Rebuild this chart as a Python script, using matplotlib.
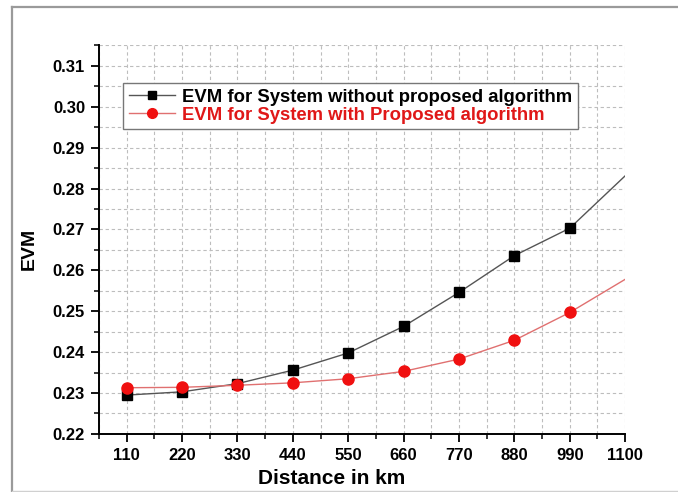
import matplotlib
matplotlib.use("Agg")
import matplotlib.pyplot as plt
from matplotlib.lines import Line2D
from matplotlib.ticker import MultipleLocator

# distancia (km) y EVM de cada sistema
distancia = [110, 220, 330, 440, 550, 660, 770, 880, 990, 1100]
evm_sin = [0.2295, 0.2303, 0.2323, 0.2356, 0.2398, 0.2463, 0.2546, 0.2636, 0.2703, 0.2831]
evm_con = [0.2313, 0.2314, 0.2319, 0.2325, 0.2335, 0.2353, 0.2383, 0.2429, 0.2497, 0.2578]

etiquetas = ['EVM for System without proposed algorithm',
             'EVM for System with Proposed algorithm']

plt.rcParams['font.family'] = ['Liberation Sans', 'DejaVu Sans']
plt.rcParams['font.weight'] = 'bold'

fig = plt.figure(figsize=(6.78, 4.92), dpi=100)
ax = fig.add_axes([0.146, 0.118, 0.776, 0.7905])

# marco gris exterior
fig.add_artist(Line2D([0.0177, 0.0177], [0.9858, 0.0], transform=fig.transFigure, color='#9a9a9a', lw=1.6))
fig.add_artist(Line2D([0.0177, 1.0], [0.9858, 0.9858], transform=fig.transFigure, color='#9a9a9a', lw=1.6))
fig.add_artist(Line2D([0.0177, 1.0], [0.002, 0.002], transform=fig.transFigure, color='#d0d0d0', lw=1.0))

# curvas (el último punto sin marcador)
ax.plot(distancia, evm_sin, color='#555555', lw=1.0, zorder=3)
ax.plot(distancia[:-1], evm_sin[:-1], 's', color='black', ms=7, zorder=4)
ax.plot(distancia, evm_con, color='#e07070', lw=1.0, zorder=3)
ax.plot(distancia[:-1], evm_con[:-1], 'o', color='#f01010', ms=8, zorder=4)

ax.set_xlim(55, 1100)
ax.set_ylim(0.22, 0.3151)
ax.set_xticks(distancia)
ax.xaxis.set_minor_locator(MultipleLocator(55))
ax.yaxis.set_major_locator(MultipleLocator(0.01))
ax.yaxis.set_minor_locator(MultipleLocator(0.005))
ax.yaxis.set_major_formatter(plt.FormatStrFormatter('%.2f'))

ax.grid(which='both', color='#bdbdbd', lw=0.8, linestyle=(0, (3, 2.5)))
ax.set_axisbelow(True)

for lado in ['top', 'right']:
    ax.spines[lado].set_visible(False)
for lado in ['left', 'bottom']:
    ax.spines[lado].set_linewidth(1.4)

ax.tick_params(which='major', direction='out', length=6, width=1.3, labelsize=12, pad=4)
ax.tick_params(which='minor', direction='out', length=3.5, width=1.1)
for t in ax.get_xticklabels() + ax.get_yticklabels():
    t.set_fontweight('bold')

ax.set_xlabel('Distance in km', fontsize=15, fontweight='bold')
ax.xaxis.set_label_coords(0.443, -0.09)
ax.set_ylabel('EVM', fontsize=14, fontweight='bold')
ax.yaxis.set_label_coords(-0.117, 0.476)

manejadores = [
    Line2D([], [], color='#555555', lw=1.0, marker='s', ms=6, mfc='black', mec='black'),
    Line2D([], [], color='#e07070', lw=1.0, marker='o', ms=7, mfc='#f01010', mec='#f01010'),
]
leg = ax.legend(manejadores, etiquetas, loc='upper left', bbox_to_anchor=(0.0456, 0.902),
                borderaxespad=0, fontsize=13.3, fancybox=False, framealpha=1,
                edgecolor='#777777', handlelength=2.5, handletextpad=0.4,
                labelspacing=0.05, borderpad=0.3)
leg.get_frame().set_linewidth(1.0)
textos = leg.get_texts()
textos[0].set_color('black')
textos[1].set_color('#e01818')
for t in textos:
    t.set_fontweight('bold')

fig.savefig('out.png', dpi=100)
